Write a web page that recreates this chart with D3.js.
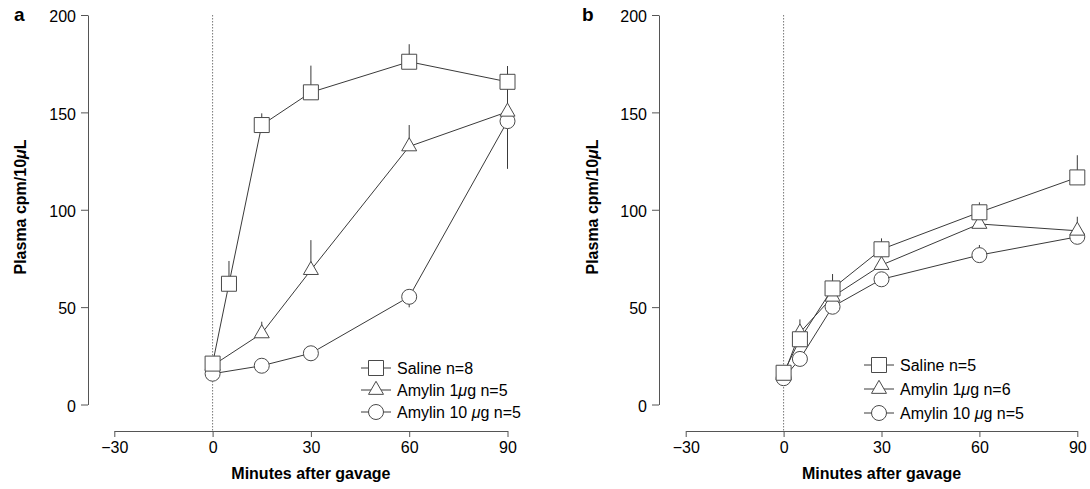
<!DOCTYPE html>
<html><head><meta charset="utf-8">
<script src="https://cdn.jsdelivr.net/npm/d3@7"></script>
<style>
html,body{margin:0;padding:0;background:#fff;}
svg{display:block;font-family:"Liberation Sans",Arial,sans-serif;}
</style></head>
<body>
<svg id="chart" width="1090" height="489"></svg>
<script>
// ---- data ----
const xTicks = [-30, 0, 30, 60, 90];
const yTicks = [0, 50, 100, 150, 200];

// Panel a
const timeA_saline = [0, 5, 15, 30, 60, 90];
const timeA_amylin = [0, 15, 30, 60, 90];
const a_saline = [21, 62, 143.5, 160.3, 176, 165.7];
const a_saline_err = [null, 73.7, 149.5, 174, 185, 173.8];
const a_amy1 = [20, 36.5, 69, 132.5, 150.3];
const a_amy1_err = [null, 42.5, 84.4, 143.5, 162];
const a_amy10 = [15.8, 19.9, 26.3, 55.3, 145.5];
const a_amy10_err = [null, null, 22.3, 49.9, 121];   // error bars drawn downward

// Panel b
const timeB = [0, 5, 15, 30, 60, 90];
const b_saline = [16.3, 33.5, 59.6, 79.7, 98.7, 116.6];
const b_saline_err = [null, null, 67, 85.3, 103.8, 128];
const b_amy1 = [15, 36.9, 55.3, 71.6, 92.7, 89.2];
const b_amy1_err = [null, 43.7, null, 75.9, null, 96.4];
const b_amy10 = [13.5, 23.4, 50.2, 64.3, 76.7, 86.1];
const b_amy10_err = [null, null, null, null, 81.9, null];

const legendA = ["Saline n=8", "Amylin 1|μ|g n=5", "Amylin 10 |μ|g n=5"];
const legendB = ["Saline n=5", "Amylin 1|μ|g n=6", "Amylin 10 |μ|g n=5"];

// ---- drawing ----
const svg = d3.select("#chart");
const LINE = "#3a3a3a", MARK = "#4a4a4a", AXIS = "#555";

function markerPath(shape) {
  if (shape === "square") return "M-7.5,-7.5H7.5V7.5H-7.5Z";
  if (shape === "triangle") return "M0,-8.7L7.5,4.35L-7.5,4.35Z";
  return d3.path().toString();
}
function drawMarker(g, shape, x, y) {
  if (shape === "circle") {
    g.append("circle").attr("cx", x).attr("cy", y).attr("r", 7.5)
      .attr("fill", "#fff").attr("stroke", MARK).attr("stroke-width", 1);
  } else {
    g.append("path").attr("d", markerPath(shape))
      .attr("transform", `translate(${x},${y})`)
      .attr("fill", "#fff").attr("stroke", MARK).attr("stroke-width", 1);
  }
}

function panel(cfg) {
  const g = svg.append("g");
  const x = d3.scaleLinear().domain([-30, 90]).range(cfg.xRange);
  const y = d3.scaleLinear().domain([0, 200]).range([404.5, 15]);

  // y axis
  const ya = g.append("g").attr("transform", `translate(${cfg.yAxisX},0)`)
    .call(d3.axisLeft(y).tickValues(yTicks).tickSize(7).tickSizeOuter(0).tickPadding(5));
  ya.select(".domain").attr("stroke", AXIS);
  ya.selectAll(".tick line").attr("stroke", AXIS);
  ya.selectAll(".tick text").attr("font-size", 16).attr("fill", "#000")
    .attr("font-family", "Liberation Sans, Arial, sans-serif").attr("dy", "0.42em");

  // x axis
  const xa = g.append("g").attr("transform", `translate(0,431)`)
    .call(d3.axisBottom(x).tickValues(xTicks).tickSize(6).tickSizeOuter(0).tickPadding(5)
      .tickFormat(d => d < 0 ? "\u2212" + Math.abs(d) : String(d)));
  xa.select(".domain").attr("stroke", AXIS);
  xa.selectAll(".tick line").attr("stroke", AXIS);
  xa.selectAll(".tick text").attr("font-size", 16).attr("fill", "#000")
    .attr("font-family", "Liberation Sans, Arial, sans-serif");

  // axis titles
  g.append("text").attr("x", (cfg.xRange[0] + cfg.xRange[1]) / 2).attr("y", 479)
    .attr("text-anchor", "middle").attr("font-size", 16).attr("font-weight", "bold")
    .text("Minutes after gavage");
  const yt = g.append("text")
    .attr("transform", `translate(${cfg.yTitleX},207) rotate(-90)`)
    .attr("text-anchor", "middle").attr("font-size", 16).attr("font-weight", "bold");
  yt.append("tspan").text("Plasma cpm/10");
  yt.append("tspan").attr("font-style", "italic").text("μ");
  yt.append("tspan").text("L");

  // panel letter
  g.append("text").attr("x", cfg.letterX).attr("y", 21).attr("font-size", 19)
    .attr("font-weight", "bold").text(cfg.letter);

  // dotted zero line
  g.append("line").attr("x1", x(0)).attr("x2", x(0)).attr("y1", 15).attr("y2", 431)
    .attr("stroke", "#777").attr("stroke-width", 1).attr("stroke-dasharray", "1.5,1.5");

  const line = d3.line().x(d => x(d[0])).y(d => y(d[1]));
  const series = cfg.series;

  // error bars
  series.forEach(s => {
    s.t.forEach((t, i) => {
      if (s.err[i] == null) return;
      g.append("line").attr("x1", x(t)).attr("x2", x(t))
        .attr("y1", y(s.v[i])).attr("y2", y(s.err[i]))
        .attr("stroke", LINE).attr("stroke-width", 1);
    });
  });
  // lines
  series.forEach(s => {
    g.append("path").datum(s.t.map((t, i) => [t, s.v[i]]))
      .attr("d", line).attr("fill", "none").attr("stroke", LINE).attr("stroke-width", 1);
  });
  // markers (circle bottom, square top)
  series.slice().reverse().forEach(s => {
    s.t.forEach((t, i) => drawMarker(g, s.shape, x(t), y(s.v[i])));
  });

  // legend
  cfg.legend.forEach((lab, i) => {
    const ly = cfg.legendY[i];
    const lx = cfg.legendX;
    g.append("line").attr("x1", lx).attr("x2", lx + 30).attr("y1", ly).attr("y2", ly)
      .attr("stroke", LINE).attr("stroke-width", 1);
    drawMarker(g, series[i].shape, lx + 15, ly);
    const tx = g.append("text").attr("x", lx + 36).attr("y", ly).attr("dy", "0.36em")
      .attr("font-size", 16);
    lab.split("|").forEach(part => {
      const ts = tx.append("tspan").text(part);
      if (part === "μ") ts.attr("font-style", "italic");
    });
  });
}

panel({
  letter: "a", letterX: 14, yAxisX: 88, xRange: [114.3, 507.5], yTitleX: 26,
  legendX: 361, legendY: [368, 390, 412], legend: legendA,
  series: [
    {shape: "square", t: timeA_saline, v: a_saline, err: a_saline_err},
    {shape: "triangle", t: timeA_amylin, v: a_amy1, err: a_amy1_err},
    {shape: "circle", t: timeA_amylin, v: a_amy10, err: a_amy10_err}
  ]
});
panel({
  letter: "b", letterX: 582, yAxisX: 659, xRange: [685.7, 1077.3], yTitleX: 598,
  legendX: 864, legendY: [365, 389, 413], legend: legendB,
  series: [
    {shape: "square", t: timeB, v: b_saline, err: b_saline_err},
    {shape: "triangle", t: timeB, v: b_amy1, err: b_amy1_err},
    {shape: "circle", t: timeB, v: b_amy10, err: b_amy10_err}
  ]
});
</script>
</body></html>
